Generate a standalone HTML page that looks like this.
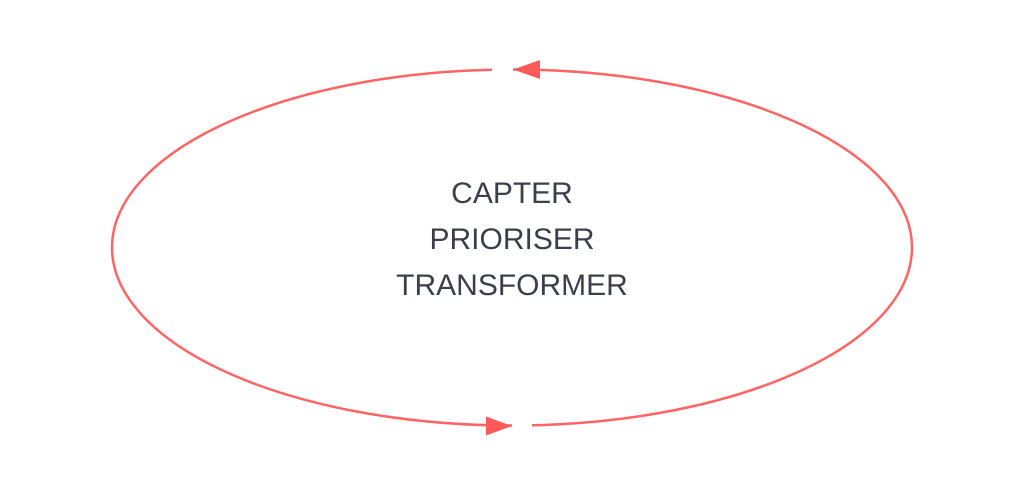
<!DOCTYPE html>
<html><head><meta charset="utf-8"><style>
html,body{margin:0;padding:0;background:#fff;}
svg{display:block}
</style></head><body>
<svg width="1024" height="500" viewBox="0 0 1024 500" xmlns="http://www.w3.org/2000/svg">
<rect width="1024" height="500" fill="#fff"/>
<ellipse cx="512" cy="247.5" rx="400" ry="178" fill="none" stroke="#ff6464" stroke-width="2.5"/>
<rect x="492" y="60" width="21" height="20" fill="#fff"/>
<rect x="512" y="416" width="20" height="20" fill="#fff"/>
<polygon points="513,69.5 540,60 540,79" fill="#ff5a5a"/>
<polygon points="512,426 486,416.5 486,435.5" fill="#ff5a5a"/>
<g font-family="Liberation Sans, sans-serif" font-size="30" fill="#3a3f4a" text-anchor="middle">
<text x="512" y="203">CAPTER</text>
<text x="512" y="249">PRIORISER</text>
<text x="512" y="295">TRANSFORMER</text>
</g>
</svg>
</body></html>
